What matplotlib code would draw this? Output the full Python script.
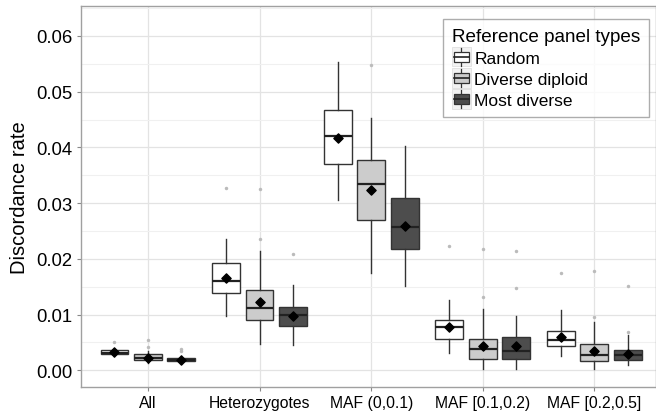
import matplotlib
matplotlib.use("Agg")
import matplotlib.pyplot as plt
from matplotlib.patches import Patch, Rectangle
from matplotlib.lines import Line2D
from matplotlib.legend_handler import HandlerBase
from matplotlib.ticker import MultipleLocator

plt.rcParams['font.family'] = ['Liberation Sans', 'DejaVu Sans']

# ---------- data ----------
categories = ["All", "Heterozygotes", "MAF (0,0.1)", "MAF [0.1,0.2)", "MAF [0.2,0.5]"]
panels = ["Random", "Diverse diploid", "Most diverse"]

# one list per panel type, one value per category
random_q1 = [0.0029, 0.0139, 0.0371, 0.0056, 0.0043]
random_med = [0.0032, 0.0160, 0.0421, 0.0078, 0.0054]
random_q3 = [0.0036, 0.0193, 0.0467, 0.0090, 0.0071]
random_lo = [0.0026, 0.0097, 0.0305, 0.0031, 0.0025]
random_hi = [0.0039, 0.0236, 0.0553, 0.0127, 0.0108]
random_mean = [0.0033, 0.0166, 0.0417, 0.0077, 0.0060]
random_out = [[0.0051], [0.0328], [], [0.0223], [0.0175]]

diverse_q1 = [0.0018, 0.0090, 0.0269, 0.0020, 0.0016]
diverse_med = [0.0023, 0.0111, 0.0334, 0.0039, 0.0028]
diverse_q3 = [0.0029, 0.0145, 0.0378, 0.0057, 0.0047]
diverse_lo = [0.0014, 0.0047, 0.0174, 0.0003, 0.0002]
diverse_hi = [0.0035, 0.0214, 0.0452, 0.0110, 0.0087]
diverse_mean = [0.0023, 0.0122, 0.0324, 0.0044, 0.0035]
diverse_out = [[0.0041, 0.0054], [0.0236, 0.0325], [0.0548], [0.0131, 0.0217], [0.0096, 0.0178]]

most_q1 = [0.0016, 0.0079, 0.0217, 0.0020, 0.0018]
most_med = [0.0019, 0.0099, 0.0257, 0.0034, 0.0028]
most_q3 = [0.0022, 0.0114, 0.0309, 0.0060, 0.0037]
most_lo = [0.0013, 0.0045, 0.0151, 0.0002, 0.0009]
most_hi = [0.0025, 0.0153, 0.0403, 0.0097, 0.0063]
most_mean = [0.0019, 0.0097, 0.0259, 0.0043, 0.0030]
most_out = [[0.0035, 0.0039], [0.0209], [], [0.0147, 0.0215], [0.0069, 0.0151]]

series = [
    (random_q1, random_med, random_q3, random_lo, random_hi, random_mean, random_out),
    (diverse_q1, diverse_med, diverse_q3, diverse_lo, diverse_hi, diverse_mean, diverse_out),
    (most_q1, most_med, most_q3, most_lo, most_hi, most_mean, most_out),
]
fills = ["#ffffff", "#cccccc", "#4d4d4d"]
edge = "#333333"


# small boxplot glyph for the legend keys, like ggplot draws them
class BoxKeyHandler(HandlerBase):
    def create_artists(self, legend, orig_handle, xdescent, ydescent,
                       width, height, fontsize, trans):
        fc = orig_handle.get_facecolor()
        x0, y0 = -xdescent, -ydescent
        bg = Rectangle((x0, y0 - 2), width, height + 4,
                       facecolor="#f2f2f2", edgecolor="#e0e0e0", lw=0.6, transform=trans)
        cx = x0 + width / 2
        whisk = Line2D([cx, cx], [y0 - 1.5, y0 + height + 1.5],
                       color=edge, lw=0.9, transform=trans)
        box = Rectangle((x0 + width * 0.12, y0 + height * 0.15),
                        width * 0.76, height * 0.7, facecolor=fc, edgecolor=edge,
                        lw=0.9, transform=trans)
        med = Line2D([x0 + width * 0.12, x0 + width * 0.88],
                     [y0 + height / 2] * 2, color="#222222", lw=1.2, transform=trans)
        return [bg, whisk, box, med]


# ---------- plot ----------
fig = plt.figure(figsize=(6.56, 4.14), dpi=100)
ax = fig.add_axes([0.1235, 0.064, 0.876, 0.918])

offsets = [-0.3, 0.0, 0.3]
for (q1, med, q3, lo, hi, mean, out), off, fc in zip(series, offsets, fills):
    stats = []
    for i in range(len(categories)):
        stats.append({"q1": q1[i], "med": med[i], "q3": q3[i],
                      "whislo": lo[i], "whishi": hi[i], "fliers": out[i]})
    pos = [i + 1 + off for i in range(len(categories))]
    ax.bxp(stats, positions=pos, widths=0.25, patch_artist=True, showcaps=False,
           boxprops=dict(facecolor=fc, edgecolor=edge, linewidth=1.0),
           medianprops=dict(color="#222222", linewidth=1.6),
           whiskerprops=dict(color=edge, linewidth=1.0),
           flierprops=dict(marker="o", markersize=2.5, markerfacecolor="#bbbbbb",
                           markeredgecolor="none"),
           zorder=3)
    ax.scatter(pos, mean, marker="D", s=22, color="black", zorder=5)

ax.set_xlim(0.4, 5.55)
ax.set_xticks(range(1, len(categories) + 1))
ax.set_xticklabels(categories, fontsize=11.3, color="black")
ax.yaxis.set_major_locator(MultipleLocator(0.01))
ax.yaxis.set_minor_locator(MultipleLocator(0.005))
ax.set_ylim(-0.0029, 0.0653)
ax.set_yticks(ax.get_yticks())
ax.set_yticklabels([f"{v:.2f}" for v in ax.get_yticks()], fontsize=13.3)
ax.set_ylim(-0.0029, 0.0653)
ax.set_ylabel("Discordance rate", fontsize=14.5, labelpad=5)

ax.grid(True, which="major", color="#e3e3e3", linewidth=0.9, zorder=0)
ax.grid(True, which="minor", axis="y", color="#f0f0f0", linewidth=0.8, zorder=0)
ax.set_axisbelow(True)
ax.tick_params(axis="both", which="major", length=3, color="#888888", pad=3)
ax.tick_params(axis="y", which="minor", length=0)
for s in ax.spines.values():
    s.set_color("#a0a0a0")
    s.set_linewidth(1.0)

handles = [Patch(facecolor=fc, edgecolor=edge, label=lab) for fc, lab in zip(fills, panels)]
leg = ax.legend(handles=handles, title="Reference panel types", loc="upper right",
                bbox_to_anchor=(1.003, 0.99), fontsize=12.5, title_fontsize=13.6,
                frameon=True, fancybox=False, handlelength=1.1, handleheight=0.85,
                handletextpad=0.2, borderpad=0.5, labelspacing=0.3,
                handler_map={Patch: BoxKeyHandler()})
leg.get_frame().set_edgecolor("#999999")
leg.get_frame().set_linewidth(1.0)
leg._legend_box.align = "left"

fig.savefig("out.png", dpi=100)
